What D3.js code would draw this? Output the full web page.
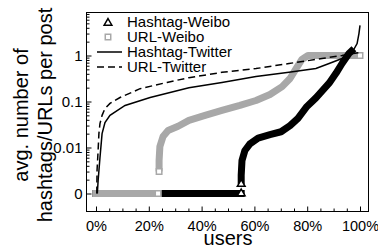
<!DOCTYPE html>
<html><head><meta charset="utf-8">
<script src="https://cdn.jsdelivr.net/npm/d3@7"></script>
<style>html,body{margin:0;padding:0;background:#fff;} svg{display:block;font-family:"Liberation Sans",Arial,Helvetica,sans-serif;}</style>
</head><body><svg id="c" width="378" height="248"></svg>
<script>
// ---- data ----
const xTickValues = [0, 20, 40, 60, 80, 100];
const xTickLabels = ["0%", "20%", "40%", "60%", "80%", "100%"];
const yTickValues = [1, 0.1, 0.01, 0];
const yTickLabels = ["1", "0.1", "0.01", "0"];
const seriesNames = ["Hashtag-Weibo", "URL-Weibo", "Hashtag-Twitter", "URL-Twitter"];

const hashtagWeiboPct = [0, 55, 55, 55, 55.3, 56.4, 58.3, 61.4, 65.9, 70.1, 73.5, 76.5, 79.9, 83.3, 88.3, 90.9, 93.2, 95.8, 97.7];
const hashtagWeiboVal = [0, 0, 0.0016, 0.0025, 0.0052, 0.0086, 0.012, 0.016, 0.019, 0.022, 0.030, 0.043, 0.078, 0.12, 0.25, 0.41, 0.67, 1.1, 1.4];

const urlWeiboPct = [0, 23.5, 23.9, 23.9, 24.2, 25.4, 27.3, 31.1, 35.2, 41.3, 47.7, 54.5, 60.6, 65.9, 70.5, 73.5, 75.8, 78.0, 80.3, 100];
const urlWeiboVal = [0, 0, 0.003, 0.0052, 0.0105, 0.0174, 0.0234, 0.029, 0.039, 0.050, 0.064, 0.082, 0.105, 0.142, 0.21, 0.316, 0.52, 0.82, 1.0, 1.0];

const hashtagTwitterPct = [0.5, 0.8, 1.5, 2.3, 3.4, 5.3, 11, 20.5, 35.2, 47.7, 60.6, 73.1, 83.3, 88.3, 93.2, 97.0, 98.9, 99.6, 100];
const hashtagTwitterVal = [0, 0.0019, 0.006, 0.020, 0.035, 0.050, 0.082, 0.122, 0.20, 0.26, 0.35, 0.43, 0.52, 0.67, 0.86, 1.16, 1.82, 3.0, 4.5];

const urlTwitterPct = [0.3, 0.4, 0.8, 1.1, 1.5, 2.3, 3.4, 5.3, 9.1, 16.7, 26.9, 35.2, 47.7, 60.6, 73.1, 85.6, 93.2, 99.6, 100];
const urlTwitterVal = [0, 0.0032, 0.0086, 0.020, 0.033, 0.050, 0.070, 0.091, 0.122, 0.19, 0.26, 0.33, 0.43, 0.52, 0.67, 0.86, 1.0, 1.16, 1.25];

// ---- layout ----
const frame = {left: 86.5, right: 368.5, top: 12.5, bottom: 211.5};
const ZERO = 1e-3; // "0" is drawn at the 0.001 position
const x = d3.scaleLinear().domain([0, 100]).range([96, 360]);
const y = d3.scaleLog().domain([ZERO, 1]).range([193.5, 55.5]);
const yv = v => y(v === 0 ? ZERO : v);

const svg = d3.select("#c");
const gray = "#a8a8a8";

// axes
const xMinor = d3.range(0, 101, 5).filter(v => !xTickValues.includes(v));
svg.append("g").attr("transform", `translate(0,${frame.bottom})`)
  .call(d3.axisBottom(x).tickValues(xMinor).tickSize(-3).tickFormat(""))
  .call(g => g.select(".domain").remove());
svg.append("g").attr("transform", `translate(0,${frame.bottom})`)
  .call(d3.axisBottom(x).tickValues(xTickValues).tickSize(-5).tickPadding(9).tickFormat((d, i) => xTickLabels[i]))
  .call(g => g.select(".domain").remove())
  .call(g => g.selectAll("text").attr("font-size", 14.5).attr("font-family", null).attr("fill", "#000"));

const yMinor = [];
[1e-3, 1e-2, 1e-1, 1].forEach(dec => { for (let k = 2; k <= 9; k++) { const v = dec * k; if (y(v) >= frame.top) yMinor.push(v); } });
svg.append("g").attr("transform", `translate(${frame.left},0)`)
  .call(d3.axisLeft(y).tickValues(yMinor).tickSize(-3).tickFormat(""))
  .call(g => g.select(".domain").remove());
svg.append("g").attr("transform", `translate(${frame.left},0)`)
  .call(d3.axisLeft(y).tickValues(yTickValues.map(v => v === 0 ? ZERO : v)).tickSize(-5).tickPadding(4).tickFormat((d, i) => yTickLabels[i]))
  .call(g => g.select(".domain").remove())
  .call(g => g.selectAll("text").attr("font-size", 15).attr("font-family", null).attr("fill", "#000"));

svg.append("rect").attr("x", frame.left).attr("y", frame.top)
  .attr("width", frame.right - frame.left).attr("height", frame.bottom - frame.top)
  .attr("fill", "none").attr("stroke", "#000").attr("stroke-width", 1);

// axis titles
svg.append("text").attr("x", 228).attr("y", 245).attr("text-anchor", "middle")
  .attr("font-size", 20).text("users");
const yt = svg.append("text").attr("transform", "translate(0,115) rotate(-90)")
  .attr("text-anchor", "middle").attr("font-size", 20);
yt.append("tspan").attr("x", 0).attr("y", 28).text("avg. number of");
yt.append("tspan").attr("x", 0).attr("y", 52).text("hashtags/URLs per post");

// series helpers
const line = d3.line().x(d => x(d[0])).y(d => yv(d[1]));
const zip = (p, v) => p.map((d, i) => [d, v[i]]);
const plot = svg.append("g");

function weiboSegments(p, v) {
  const pts = zip(p, v);
  return {zero: pts.filter(d => d[1] === 0), pos: pts.filter(d => d[1] > 0)};
}
const hw = weiboSegments(hashtagWeiboPct, hashtagWeiboVal);
const uw = weiboSegments(urlWeiboPct, urlWeiboVal);

const tri = d3.symbol().type(d3.symbolTriangle).size(26);
const sq = d3.symbol().type(d3.symbolSquare).size(30);

function band(pts, color, w, cap) {
  plot.append("path").attr("d", line(pts)).attr("fill", "none")
    .attr("stroke", color).attr("stroke-width", w).attr("stroke-linejoin", "round")
    .attr("stroke-linecap", cap || "butt");
}
function marks(pts, sym, color) {
  plot.selectAll(null).data(pts).join("path")
    .attr("transform", d => `translate(${x(d[0])},${yv(d[1])})`)
    .attr("d", sym).attr("fill", "#fff").attr("stroke", color).attr("stroke-width", 1.5);
}

// Hashtag-Weibo zero band, then URL-Weibo, then Hashtag-Weibo rising part
band(hw.zero, "#000", 7, "square");
band(uw.zero, gray, 7, "square");
band(uw.pos, gray, 7);
marks([uw.zero[uw.zero.length - 1], uw.pos[0], uw.pos[uw.pos.length - 1]], sq, gray);
band(hw.pos, "#000", 7);
marks([hw.zero[hw.zero.length - 1], hw.pos[0]], tri, "#000");

// Twitter lines
plot.append("path").attr("d", line(zip(hashtagTwitterPct, hashtagTwitterVal)))
  .attr("fill", "none").attr("stroke", "#000").attr("stroke-width", 1.5);
plot.append("path").attr("d", line(zip(urlTwitterPct, urlTwitterVal)))
  .attr("fill", "none").attr("stroke", "#000").attr("stroke-width", 1.5).attr("stroke-dasharray", "7,4");

// legend
const lg = svg.append("g");
const rows = [22, 37, 52, 67];
lg.append("path").attr("transform", `translate(108,${rows[0] + 1})`).attr("d", tri)
  .attr("fill", "#fff").attr("stroke", "#000").attr("stroke-width", 1.5);
lg.append("path").attr("transform", `translate(108,${rows[1]})`).attr("d", sq)
  .attr("fill", "#fff").attr("stroke", gray).attr("stroke-width", 1.5);
lg.append("line").attr("x1", 97).attr("x2", 122).attr("y1", rows[2]).attr("y2", rows[2])
  .attr("stroke", "#000").attr("stroke-width", 1.5);
lg.append("line").attr("x1", 97).attr("x2", 122).attr("y1", rows[3]).attr("y2", rows[3])
  .attr("stroke", "#000").attr("stroke-width", 1.5).attr("stroke-dasharray", "7,4");
lg.selectAll(null).data(seriesNames).join("text")
  .attr("x", 127).attr("y", (d, i) => rows[i]).attr("dy", "0.36em")
  .attr("font-size", 15).text(d => d);
</script></body></html>
